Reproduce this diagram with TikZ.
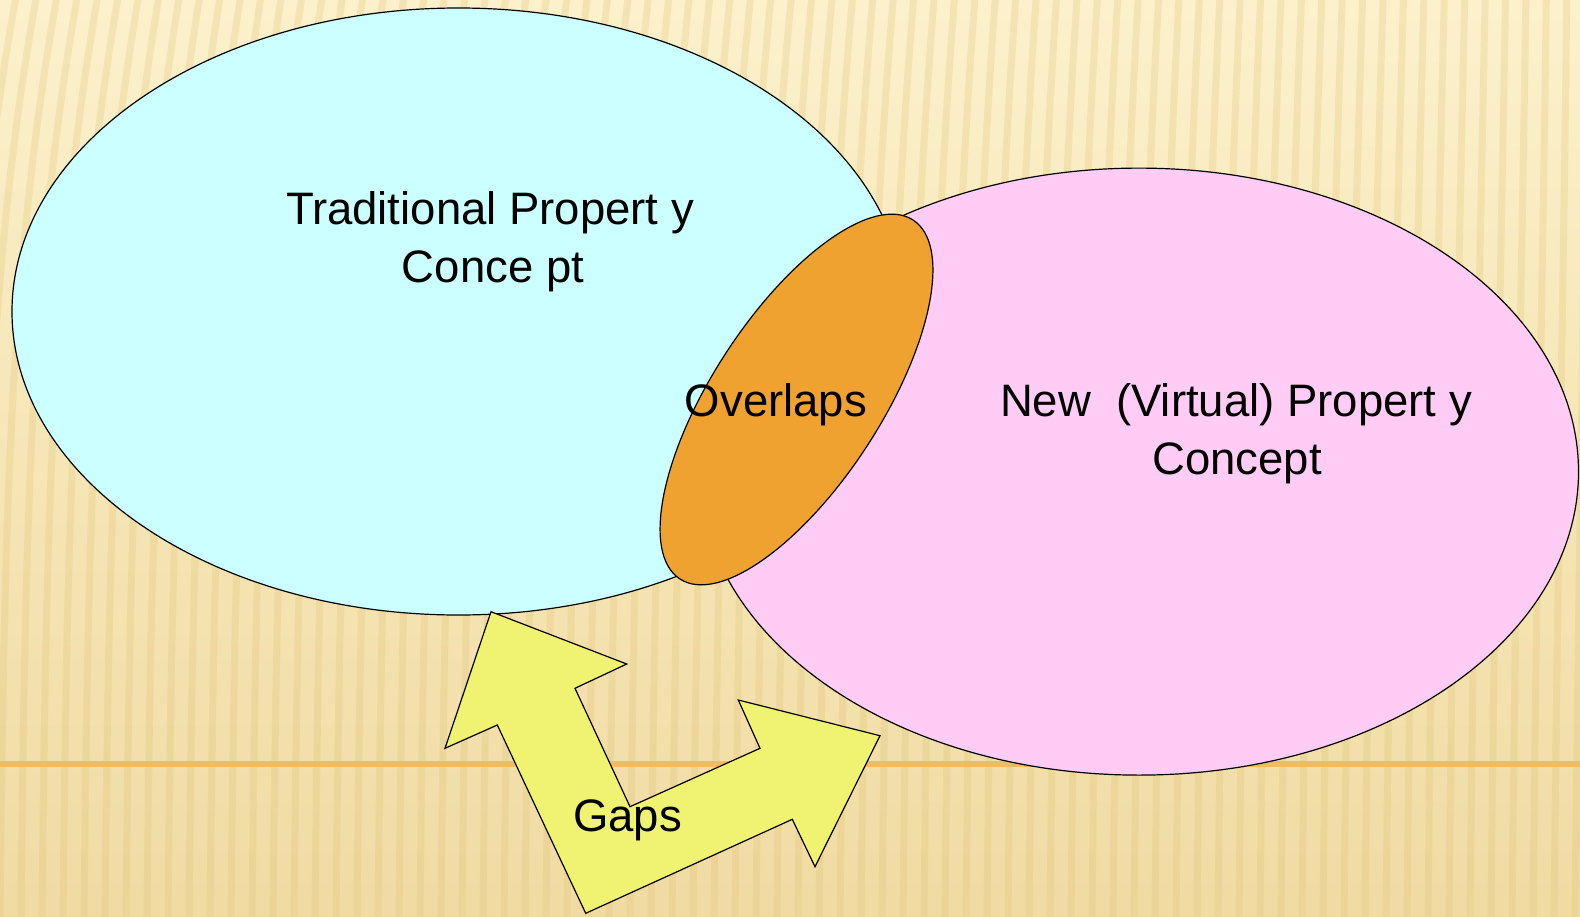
\documentclass[tikz,border=0pt]{standalone}
\usepackage{fontspec}
\setmainfont{Liberation Sans}
\usetikzlibrary{shapes.geometric}
\definecolor{bgtop}{HTML}{FCF1CB}
\definecolor{bgbot}{HTML}{F0DBA2}
\definecolor{stripecol}{HTML}{DDBE6E}
\definecolor{rulecol}{HTML}{F0BC62}
\definecolor{cyanfill}{HTML}{CCFFFF}
\definecolor{pinkfill}{HTML}{FFCCF5}
\definecolor{orangefill}{HTML}{EFA22F}
\definecolor{yellowfill}{HTML}{F0F272}
\tikzset{
  stripe/.style={draw=stripecol, line width=7pt, opacity=0.24},
  bubble/.style={ellipse, draw=black, line width=1.2pt, inner sep=0pt},
  lbl/.style={inner sep=0pt, anchor=base, font=\fontsize{45.5}{58}\selectfont},
}
\begin{document}
\begin{tikzpicture}[x=1pt,y=-1pt]
\useasboundingbox (0,0) rectangle (1580,916);
% background
\shade[top color=bgtop, bottom color=bgbot] (0,0) rectangle (1580,916);
\begin{scope}
\clip (0,0) rectangle (1580,916);
\foreach \i in {-6,...,80}{
  \pgfmathsetmacro{\xb}{\i*21}
  \pgfmathsetmacro{\xt}{\xb+12+45*(1-\xb/1580)}
  \draw[stripe] (\xb,920) .. controls (\xb+4,520) and (\xb+10,260) .. (\xt,-4);
}
\end{scope}
\draw[rulecol, line width=5.5pt] (0,764) -- (1580,764);
% ellipses
\node[bubble, fill=cyanfill, minimum width=893pt, minimum height=607pt] (trad) at (458.5,311.5) {};
\node[bubble, fill=pinkfill, minimum width=879pt, minimum height=607pt] (virt) at (1139,471.6) {};
\node[bubble, fill=orangefill, minimum width=428pt, minimum height=169pt, rotate=57] (over) at (796.5,399.5) {};
% gaps arrow
\filldraw[fill=yellowfill, draw=black, line width=1.2pt, line join=miter]
  (491,611.7) -- (626.7,664) -- (575,688.3) -- (630,806.7) -- (760,748.3)
  -- (738.3,700) -- (880,735.7) -- (815,866.7) -- (792.3,819.3)
  -- (585.7,913.3) -- (497.3,725) -- (445,748.3) -- cycle;
% labels
\node[lbl] (tradA) at (490,224.5) {Traditional Propert y};
\node[lbl] (tradB) at (493,282.5) {Conce pt};
\node[lbl] (virtA) at (1236,416.5) {New\ \ (Virtual) Propert y};
\node[lbl] (virtB) at (1237,474.5) {Concept};
\node[lbl] (overl) at (776,416) {Overlaps};
\node[lbl] (gapl) at (627.5,831) {Gaps};
\end{tikzpicture}
\end{document}
